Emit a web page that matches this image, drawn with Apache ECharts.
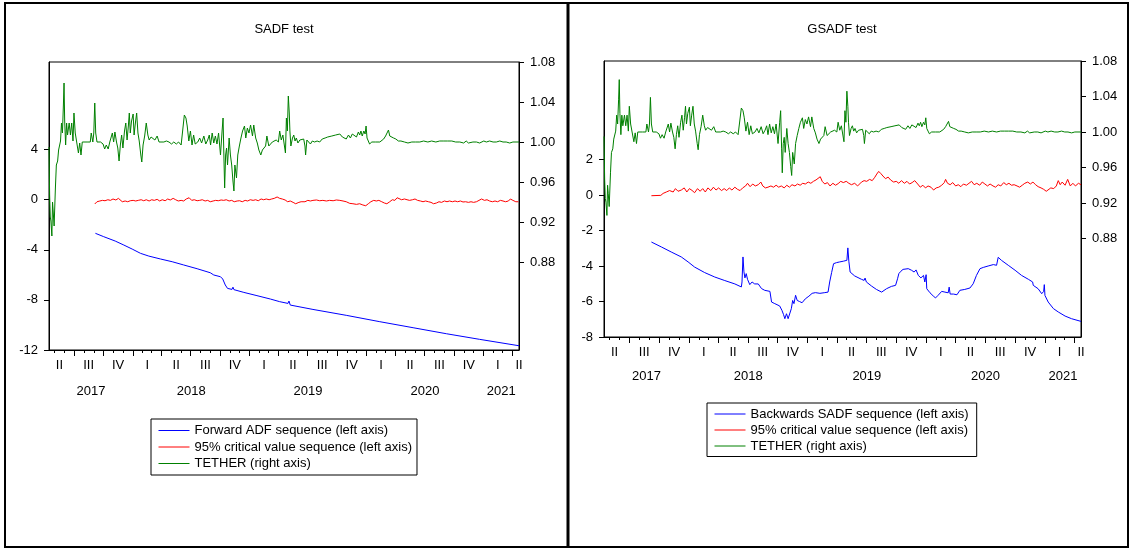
<!DOCTYPE html>
<html>
<head>
<meta charset="utf-8">
<script src="https://cdn.jsdelivr.net/npm/echarts@6/dist/echarts.min.js"></script>
<style>
  html, body { margin: 0; padding: 0; background: #ffffff; }
  #sadfChart { width: 1131px; height: 550px; }
</style>
</head>
<body>
<div id="sadfChart"></div>
<script>
// x values are days counted from the first observation (2017-04-14)
var startDate = [2017, 3, 14];
var lastDay = 1469;
var quarterNames = ["I", "II", "III", "IV"];
var years = [2017, 2018, 2019, 2020, 2021];

var sadfLeftTicks = [-12, -8, -4, 0, 4];
var gsadfLeftTicks = [-8, -6, -4, -2, 0, 2];
var priceTicks = [0.88, 0.92, 0.96, 1.00, 1.04, 1.08];

var legendSadf = ["Forward ADF sequence (left axis)", "95% critical value sequence (left axis)", "TETHER (right axis)"];
var legendGsadf = ["Backwards SADF sequence (left axis)", "95% critical value sequence (left axis)", "TETHER (right axis)"];
var seriesColors = ["#0000ff", "#ff0000", "#008000"];

// TETHER price (right axis)
var tether = [[0,0.995],[2,0.947],[4,0.925],[6,0.921],[9,0.906],[11,0.94],[13,0.931],[16,0.916],[20,0.954],[23,0.977],[27,0.981],[30,0.992],[36,1.001],[39,1.019],[42,1.009],[45,1.037],[47,1.059],[49,1.021],[52,0.997],[55,1.019],[58,1.007],[63,1.019],[67,1.007],[71,1.019],[75,1.001],[78,1.029],[82,1.009],[88,1.007],[92,0.989],[96,0.999],[100,0.987],[104,1.000],[119,1.000],[129,1.000],[132,1.009],[137,1.000],[140,1.009],[143,1.039],[146,1.009],[150,1.000],[161,1.000],[169,0.998],[174,0.993],[179,0.997],[185,0.993],[190,1.000],[195,1.000],[198,1.009],[202,1.000],[206,1.010],[211,1.000],[215,0.994],[219,0.981],[223,0.997],[227,1.007],[231,0.994],[236,1.011],[240,1.019],[244,1.002],[248,1.016],[251,1.029],[254,1.009],[258,1.021],[263,1.028],[266,1.007],[270,1.019],[274,1.029],[278,1.009],[282,1.001],[287,0.987],[290,0.980],[294,0.997],[299,1.006],[304,1.019],[309,1.007],[313,1.002],[319,1.005],[325,1.007],[331,1.002],[338,1.006],[344,1.000],[350,1.001],[359,1.000],[367,1.001],[375,1.000],[383,0.998],[390,1.000],[398,0.998],[405,1.000],[413,0.997],[419,0.999],[423,1.027],[428,1.024],[432,1.016],[437,1.001],[442,1.011],[447,0.997],[452,1.007],[457,0.998],[465,1.000],[471,1.004],[477,0.999],[484,1.006],[490,0.998],[496,1.002],[501,1.007],[505,0.997],[510,1.009],[515,0.999],[520,1.006],[525,0.998],[530,1.009],[536,0.987],[541,1.011],[544,1.024],[547,0.981],[549,0.954],[552,0.987],[555,0.994],[558,0.977],[563,1.004],[567,0.987],[571,0.977],[575,0.961],[578,0.951],[581,0.977],[586,0.964],[590,0.987],[595,0.996],[600,1.004],[605,1.011],[611,1.016],[615,1.004],[620,1.014],[625,1.009],[630,1.017],[636,1.006],[640,1.017],[646,1.004],[651,0.999],[656,0.992],[662,0.987],[667,0.992],[672,0.994],[677,0.996],[681,1.006],[687,0.996],[692,0.998],[698,1.000],[704,0.999],[710,1.002],[717,1.000],[721,1.011],[726,1.002],[731,1.007],[736,1.006],[739,0.989],[742,1.024],[745,1.011],[748,1.046],[751,1.029],[753,1.011],[756,0.996],[761,1.004],[765,1.007],[769,1.001],[773,1.004],[778,0.999],[784,1.002],[790,1.001],[796,1.003],[800,0.996],[802,0.987],[806,1.002],[811,1.004],[817,0.998],[823,1.001],[830,1.000],[838,1.001],[846,1.000],[854,1.003],[863,1.004],[871,1.005],[877,1.003],[884,1.006],[890,1.005],[896,1.007],[902,1.006],[909,1.008],[913,1.009],[917,1.005],[923,1.007],[929,1.003],[936,1.007],[942,1.004],[948,1.008],[954,1.009],[961,1.005],[967,1.010],[971,1.007],[975,1.011],[979,1.006],[984,1.011],[988,1.008],[991,1.016],[994,1.004],[998,1.001],[1002,0.998],[1009,1.000],[1015,1.001],[1021,1.000],[1027,0.998],[1034,1.000],[1040,1.002],[1046,1.003],[1052,1.006],[1056,1.008],[1061,1.012],[1065,1.006],[1071,1.005],[1077,1.004],[1084,1.003],[1092,1.001],[1100,1.001],[1111,1.000],[1122,0.999],[1134,1.000],[1146,1.000],[1159,1.000],[1171,1.001],[1184,1.000],[1196,1.001],[1209,1.000],[1221,1.001],[1234,1.001],[1246,1.001],[1259,1.001],[1271,1.000],[1284,1.000],[1296,0.999],[1304,1.001],[1311,0.999],[1317,1.000],[1325,1.000],[1336,1.000],[1346,0.999],[1352,0.998],[1359,1.001],[1367,1.000],[1377,1.001],[1388,1.000],[1398,1.000],[1409,1.001],[1419,1.000],[1429,1.000],[1440,0.999],[1450,1.000],[1469,1.000]];

// SADF panel
var forwardAdf = [[145,-2.68],[171,-2.95],[207,-3.30],[234,-3.62],[260,-3.94],[286,-4.28],[312,-4.50],[348,-4.73],[385,-4.95],[421,-5.21],[424,-5.15],[427,-5.24],[463,-5.51],[504,-5.83],[515,-6.01],[536,-6.15],[543,-6.33],[551,-6.81],[558,-7.08],[572,-7.16],[575,-6.98],[578,-7.18],[582,-7.21],[609,-7.40],[650,-7.66],[692,-7.93],[721,-8.14],[747,-8.28],[750,-8.09],[754,-8.41],[825,-8.76],[929,-9.23],[1034,-9.74],[1138,-10.22],[1242,-10.70],[1346,-11.15],[1469,-11.66]];

var sadfCritical = [[143,-0.34],[150,-0.16],[159,-0.10],[167,-0.05],[175,-0.08],[184,0.00],[192,-0.05],[200,0.06],[209,-0.02],[217,0.11],[223,0.16],[229,-0.16],[238,-0.10],[246,-0.16],[254,-0.08],[263,-0.05],[271,-0.10],[279,-0.05],[288,0.00],[296,-0.08],[304,0.00],[313,-0.10],[321,0.00],[329,-0.05],[338,0.03],[346,-0.10],[354,0.00],[363,-0.08],[371,0.06],[379,-0.02],[388,0.11],[396,0.00],[404,-0.10],[413,-0.05],[421,-0.10],[429,0.06],[438,0.16],[446,-0.05],[454,0.00],[463,-0.08],[471,-0.05],[479,0.00],[488,-0.10],[496,-0.05],[504,-0.16],[513,-0.10],[521,-0.05],[529,-0.08],[538,-0.02],[546,-0.05],[554,0.00],[563,-0.10],[571,-0.05],[579,-0.16],[588,-0.10],[596,-0.08],[604,-0.16],[613,-0.05],[621,-0.10],[629,0.00],[638,-0.05],[646,0.00],[654,-0.08],[663,0.06],[671,0.00],[679,0.06],[688,0.00],[696,0.06],[704,0.11],[713,0.22],[721,0.11],[729,0.06],[738,-0.02],[746,-0.16],[754,-0.10],[763,-0.21],[771,-0.32],[775,-0.42],[781,-0.21],[788,-0.16],[794,-0.05],[800,-0.16],[809,-0.05],[817,-0.10],[825,-0.05],[836,-0.02],[846,-0.08],[856,-0.05],[867,-0.10],[877,-0.05],[888,-0.08],[898,-0.02],[909,-0.05],[919,-0.10],[929,-0.16],[940,-0.29],[950,-0.32],[961,-0.37],[971,-0.32],[981,-0.42],[990,-0.48],[998,-0.32],[1006,-0.16],[1015,-0.05],[1023,-0.10],[1031,-0.05],[1040,-0.16],[1048,-0.26],[1056,-0.32],[1065,-0.16],[1073,0.00],[1081,-0.05],[1088,0.16],[1094,0.06],[1102,0.00],[1111,0.06],[1119,0.00],[1127,-0.05],[1136,0.00],[1144,0.06],[1152,-0.05],[1161,-0.10],[1169,-0.16],[1177,-0.10],[1186,-0.16],[1194,-0.21],[1202,-0.32],[1211,-0.26],[1219,-0.16],[1227,-0.21],[1236,-0.10],[1244,-0.16],[1252,-0.10],[1261,-0.16],[1269,-0.10],[1277,-0.16],[1286,-0.10],[1294,-0.18],[1302,-0.16],[1311,-0.21],[1319,-0.16],[1327,-0.21],[1336,-0.16],[1344,-0.05],[1352,0.06],[1361,-0.05],[1369,0.00],[1377,-0.10],[1386,-0.16],[1394,-0.10],[1402,-0.16],[1411,-0.05],[1419,-0.10],[1427,-0.16],[1436,-0.10],[1442,0.06],[1450,-0.05],[1459,-0.16],[1467,-0.16]];

// GSADF panel
var backwardSadf = [[146,-2.65],[177,-2.93],[207,-3.21],[238,-3.49],[259,-3.77],[279,-4.06],[310,-4.37],[341,-4.62],[372,-4.82],[403,-5.01],[423,-5.18],[425,-4.90],[428,-3.49],[431,-4.33],[434,-4.67],[438,-4.43],[442,-4.75],[449,-5.05],[456,-4.90],[464,-5.01],[475,-5.01],[485,-5.27],[495,-5.37],[511,-5.43],[516,-6.03],[526,-6.12],[541,-6.25],[548,-6.50],[553,-6.74],[557,-6.97],[562,-6.69],[567,-6.97],[573,-6.87],[577,-6.40],[581,-5.94],[585,-6.12],[590,-5.65],[595,-5.94],[602,-6.00],[610,-6.07],[620,-5.85],[631,-5.70],[641,-5.54],[651,-5.50],[665,-5.54],[680,-5.50],[690,-5.47],[695,-4.90],[701,-4.37],[707,-3.87],[716,-3.81],[726,-3.77],[737,-3.73],[742,-3.81],[748,-3.68],[751,-2.98],[754,-3.73],[758,-4.34],[772,-4.56],[793,-4.75],[801,-4.81],[804,-4.68],[808,-4.90],[824,-5.13],[839,-5.32],[855,-5.47],[860,-5.51],[870,-5.28],[885,-5.15],[898,-5.09],[904,-4.72],[908,-4.43],[914,-4.30],[921,-4.19],[927,-4.24],[937,-4.15],[947,-4.24],[955,-4.34],[961,-4.22],[968,-4.53],[976,-4.67],[984,-4.53],[988,-4.90],[992,-4.49],[994,-5.28],[1004,-5.51],[1014,-5.69],[1021,-5.80],[1029,-5.65],[1040,-5.43],[1050,-5.47],[1060,-5.51],[1063,-5.19],[1066,-5.58],[1076,-5.58],[1087,-5.62],[1096,-5.37],[1111,-5.32],[1127,-5.24],[1137,-5.00],[1147,-4.53],[1158,-4.15],[1168,-4.08],[1183,-4.00],[1199,-3.92],[1209,-3.96],[1214,-3.51],[1224,-3.68],[1245,-3.96],[1266,-4.24],[1286,-4.53],[1307,-4.75],[1320,-4.90],[1322,-5.09],[1337,-5.28],[1348,-5.56],[1354,-5.43],[1356,-5.05],[1358,-5.66],[1368,-6.03],[1384,-6.40],[1399,-6.59],[1420,-6.82],[1440,-6.97],[1469,-7.12]];

var gsadfCritical = [[146,-0.04],[175,-0.02],[182,0.09],[192,0.17],[202,0.25],[213,0.17],[220,0.36],[228,0.21],[238,0.28],[247,0.40],[255,0.17],[263,0.36],[271,0.26],[279,0.13],[288,0.36],[296,0.21],[304,0.36],[312,0.17],[320,0.40],[329,0.25],[337,0.44],[345,0.28],[353,0.40],[362,0.25],[370,0.36],[378,0.25],[386,0.40],[394,0.28],[403,0.44],[411,0.32],[419,0.25],[427,0.40],[436,0.51],[442,0.66],[450,0.47],[458,0.62],[466,0.51],[475,0.58],[483,0.73],[489,0.51],[497,0.40],[505,0.44],[514,0.51],[522,0.44],[530,0.55],[538,0.44],[546,0.51],[555,0.40],[563,0.55],[571,0.44],[579,0.58],[588,0.51],[596,0.62],[604,0.55],[612,0.66],[620,0.62],[629,0.73],[637,0.66],[645,0.77],[653,0.85],[659,0.81],[666,1.03],[672,0.77],[680,0.62],[688,0.70],[696,0.51],[705,0.66],[713,0.55],[721,0.64],[729,0.77],[737,0.70],[746,0.77],[754,0.66],[762,0.58],[772,0.66],[781,0.51],[787,0.44],[793,0.73],[801,0.81],[809,0.77],[818,0.88],[826,0.81],[834,1.00],[840,1.18],[846,1.33],[853,1.20],[859,1.07],[867,0.92],[875,1.01],[883,0.84],[892,0.73],[900,0.77],[908,0.66],[916,0.81],[925,0.66],[933,0.77],[941,0.62],[949,0.70],[957,0.81],[966,0.62],[974,0.44],[982,0.55],[990,0.40],[998,0.51],[1007,0.44],[1015,0.28],[1023,0.40],[1031,0.44],[1040,0.55],[1048,0.70],[1052,0.88],[1058,0.66],[1066,0.58],[1074,0.70],[1083,0.51],[1091,0.58],[1099,0.47],[1107,0.62],[1116,0.55],[1124,0.66],[1132,0.77],[1140,0.58],[1148,0.66],[1157,0.55],[1165,0.73],[1173,0.62],[1181,0.51],[1189,0.62],[1198,0.51],[1206,0.44],[1214,0.58],[1222,0.51],[1231,0.70],[1239,0.58],[1247,0.66],[1255,0.55],[1263,0.58],[1272,0.51],[1280,0.44],[1288,0.55],[1296,0.66],[1305,0.73],[1313,0.62],[1321,0.73],[1329,0.58],[1337,0.47],[1346,0.40],[1354,0.32],[1362,0.21],[1368,0.28],[1376,0.40],[1385,0.36],[1393,0.51],[1399,0.81],[1405,0.58],[1411,0.73],[1420,0.55],[1428,0.88],[1436,0.51],[1444,0.66],[1452,0.51],[1461,0.66],[1469,0.58]];

var font = "Liberation Sans";
var startUtc = Date.UTC(startDate[0], startDate[1], startDate[2]);
function dayOf(y, m) {
  return (Date.UTC(y, m, 1) - startUtc) / 86400000;
}

// month ticks, quarter ticks, quarter labels, year labels
var monthTicks = [];
var quarterTicks = [];
var quarterPos = [];
var quarterText = {};
var yearPos = [];
var yearText = {};
years.forEach(function (y) {
  for (var m = 0; m < 12; m++) {
    var d = dayOf(y, m);
    if (d > 0 && d < lastDay) {
      monthTicks.push(d);
      if (m % 3 === 0) quarterTicks.push(d);
    }
    if (m % 3 === 0) {
      var a = d, b = dayOf(y, m + 3);
      if (b <= 0 || a >= lastDay) continue;
      var mid = Math.min(Math.max((a + b) / 2, 0), lastDay);
      quarterPos.push(mid);
      quarterText[mid.toFixed(2)] = quarterNames[m / 3];
    }
  }
  var ya = Math.max(dayOf(y, 0), 0), yb = Math.min(dayOf(y + 1, 0), lastDay);
  var ym = (ya + yb) / 2;
  yearPos.push(ym);
  yearText[ym.toFixed(2)] = String(y);
});

var labelStyle = { color: "#000", fontFamily: font, fontSize: 13 };

function quarterAxis(grid) {
  return {
    type: "value", gridIndex: grid, min: 0, max: lastDay, position: "bottom",
    splitLine: { show: false },
    axisLine: { show: true, onZero: false, lineStyle: { color: "#000", width: 1 } },
    axisTick: { show: true, customValues: monthTicks, length: 3, lineStyle: { color: "#000" } },
    axisLabel: Object.assign({
      customValues: quarterPos, margin: 9, showMinLabel: true, showMaxLabel: true,
      formatter: function (v) { return quarterText[v.toFixed(2)] || ""; }
    }, labelStyle)
  };
}
function yearAxis(grid, margin) {
  return {
    type: "value", gridIndex: grid, min: 0, max: lastDay, position: "bottom",
    splitLine: { show: false },
    axisLine: { show: false, onZero: false },
    axisTick: { show: true, customValues: quarterTicks, length: 6, lineStyle: { color: "#000" } },
    axisLabel: Object.assign({
      customValues: yearPos, margin: margin, showMinLabel: true, showMaxLabel: true,
      formatter: function (v) { return yearText[v.toFixed(2)] || ""; }
    }, labelStyle)
  };
}
function valueAxis(grid, pos, min, max, ticks, digits) {
  return {
    type: "value", gridIndex: grid, position: pos, min: min, max: max,
    splitLine: { show: false },
    axisLine: { show: true, onZero: false, lineStyle: { color: "#000", width: 1 } },
    axisTick: { show: true, customValues: ticks, length: 5, lineStyle: { color: "#000" } },
    axisLabel: Object.assign({
      customValues: ticks, margin: 11, showMinLabel: true, showMaxLabel: true,
      formatter: function (v) { return digits ? v.toFixed(digits) : String(v); }
    }, labelStyle)
  };
}
function line(name, data, x, y, color) {
  return {
    name: name, type: "line", data: data, xAxisIndex: x, yAxisIndex: y,
    symbol: "none", lineStyle: { color: color, width: 1 }, itemStyle: { color: color },
    z: 3
  };
}
function legendBox(names, left, top, gap, padding) {
  return {
    data: names.map(function (n, i) {
      return { name: n, lineStyle: { color: seriesColors[i], width: 1 } };
    }),
    orient: "vertical", left: left, top: top,
    itemWidth: 31, itemHeight: 14, itemGap: gap,
    padding: padding,
    borderColor: "#000", borderWidth: 1,
    selectedMode: false,
    itemStyle: { opacity: 0, borderWidth: 0 },
    textStyle: { color: "#000", fontFamily: font, fontSize: 13 }
  };
}

var option = {
  animation: false,
  backgroundColor: "#fff",
  textStyle: { fontFamily: font },
  title: [
    { text: "SADF test", left: 284, top: 23, textAlign: "center", padding: 0,
      textStyle: { color: "#000", fontFamily: font, fontSize: 13, fontWeight: "normal" } },
    { text: "GSADF test", left: 842, top: 23, textAlign: "center", padding: 0,
      textStyle: { color: "#000", fontFamily: font, fontSize: 13, fontWeight: "normal" } }
  ],
  legend: [
    legendBox(legendSadf, 151, 419, 3.5, [5, 5, 5, 7]),
    legendBox(legendGsadf, 707, 403, 3, [4.5, 8, 4, 7])
  ],
  grid: [
    { left: 49, top: 62, width: 470, height: 288, show: true, borderColor: "#000", borderWidth: 1 },
    { left: 604, top: 61, width: 477, height: 276, show: true, borderColor: "#000", borderWidth: 1 }
  ],
  xAxis: [quarterAxis(0), yearAxis(0, 35), quarterAxis(1), yearAxis(1, 33)],
  yAxis: [
    valueAxis(0, "left", -12, 11, sadfLeftTicks, 0),
    valueAxis(0, "right", 0.792, 1.08, priceTicks, 2),
    valueAxis(1, "left", -8, 7.55, gsadfLeftTicks, 0),
    valueAxis(1, "right", 0.769, 1.08, priceTicks, 2)
  ],
  graphic: [
    { type: "rect", shape: { x: 5, y: 3, width: 1123, height: 544 }, style: { fill: null, stroke: "#000", lineWidth: 2 } },
    { type: "line", shape: { x1: 568, y1: 3, x2: 568, y2: 547 }, style: { stroke: "#000", lineWidth: 3 } }
  ],
  series: [
    line(legendSadf[0], forwardAdf, 0, 0, seriesColors[0]),
    line(legendSadf[1], sadfCritical, 0, 0, seriesColors[1]),
    line(legendSadf[2], tether, 0, 1, seriesColors[2]),
    line(legendGsadf[0], backwardSadf, 2, 2, seriesColors[0]),
    line(legendGsadf[1], gsadfCritical, 2, 2, seriesColors[1]),
    line(legendGsadf[2], tether, 2, 3, seriesColors[2])
  ]
};

var myChart = echarts.init(document.getElementById("sadfChart"));
myChart.setOption(option);
</script>
</body>
</html>
